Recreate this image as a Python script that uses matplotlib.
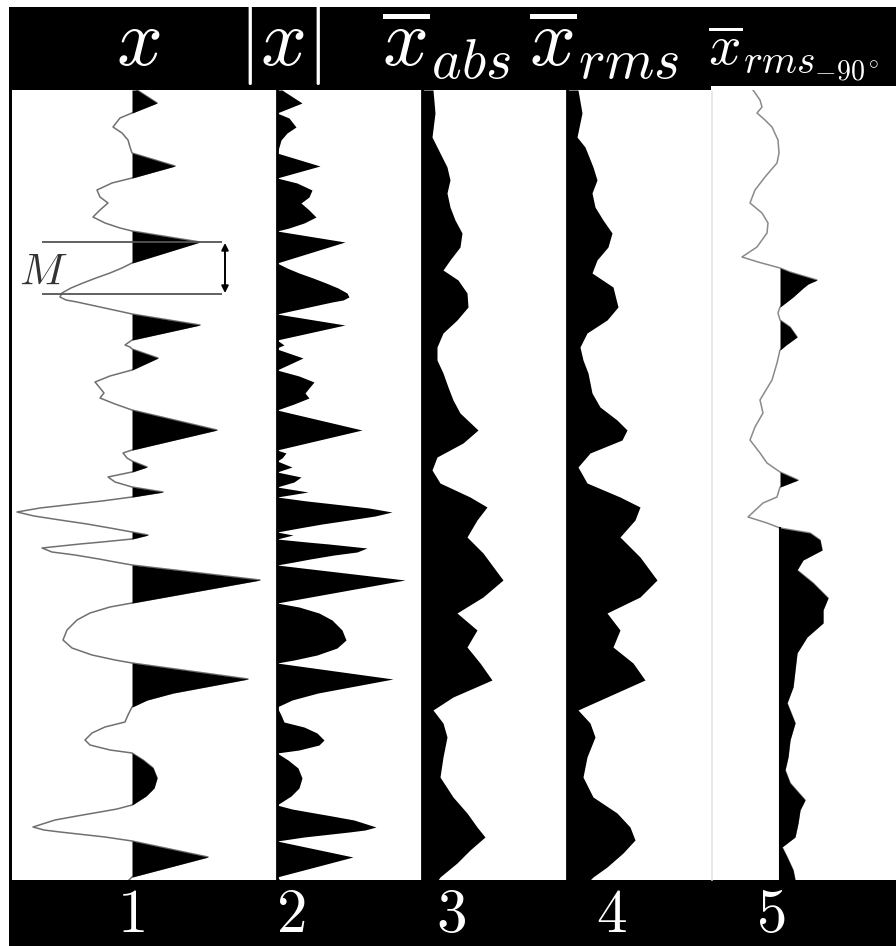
import numpy as np
import matplotlib.pyplot as plt
from matplotlib.patches import Rectangle

plt.rcParams['mathtext.fontset'] = 'cm'

# ---- trace 1: raw trace x (time in ms, amplitude in normalised units) ----
x_time = [0, 13, 23, 28, 37, 43, 50, 57, 63, 76, 88, 93, 100, 107, 113, 120, 127, 133,
          138, 141, 152, 173, 178, 183, 188, 193, 198, 203, 207, 210, 212, 217, 222, 224,
          235, 250, 255, 257, 259, 268, 280, 286, 292, 298, 303, 308, 314, 320, 340, 360,
          363, 368, 371, 377, 382, 387, 392, 397, 402, 407, 411, 414, 418, 422, 426, 430,
          434, 438, 442, 445, 449, 452, 454, 458, 462, 465, 469, 472, 475, 490, 513, 517,
          523, 530, 540, 550, 558, 565, 570, 573, 589, 603, 610, 617, 625, 632, 637, 643,
          650, 655, 660, 663, 670, 678, 688, 698, 706, 715, 719, 722, 726, 730, 737, 740,
          742, 745, 747, 751, 767, 787, 790]
x_amp = [0.05, 0.25, 0, -0.12, -0.19, -0.10, -0.04, -0.02, 0, 0.43, 0, -0.20, -0.35, -0.32,
         -0.24, -0.32, -0.39, -0.27, -0.12, 0, 0.68, 0, -0.10, -0.22, -0.36, -0.49, -0.61,
         -0.70, -0.72, -0.66, -0.55, -0.32, -0.09, 0, 0.68, 0, -0.07, -0.02, 0, 0.26, 0,
         -0.22, -0.37, -0.32, -0.28, -0.32, -0.17, 0, 0.85, 0, -0.09, -0.05, 0, 0.15, 0,
         -0.24, -0.17, 0, 0.31, 0, -0.30, -0.57, -0.92, -1.15, -0.98, -0.72, -0.45, -0.22,
         0, 0.16, 0, -0.30, -0.52, -0.90, -0.80, -0.57, -0.33, -0.17, 0, 1.28, 0, -0.22,
         -0.42, -0.55, -0.65, -0.69, -0.60, -0.40, -0.17, 0, 1.16, 0.41, 0.15, 0, -0.04,
         -0.07, -0.27, -0.40, -0.47, -0.42, -0.22, 0, 0.11, 0.21, 0.25, 0.22, 0.14, 0,
         -0.15, -0.32, -0.55, -0.77, -0.99, -0.88, -0.72, -0.45, -0.27, 0, 0.76, 0, -0.03]

# ---- trace 3: mean absolute amplitude ----
abs_time = [0, 23, 47, 57, 77, 90, 103, 117, 130, 143, 157, 170, 180, 190, 203, 217, 230,
            243, 257, 270, 283, 297, 310, 323, 340, 353, 367, 380, 393, 407, 417, 430, 447,
            463, 490, 507, 523, 540, 557, 573, 590, 607, 620, 633, 647, 667, 687, 707, 723,
            737, 747, 760, 773, 787, 790]
abs_amp = [0.11, 0.13, 0.10, 0.15, 0.25, 0.28, 0.25, 0.28, 0.33, 0.40, 0.38, 0.28, 0.21,
           0.36, 0.45, 0.46, 0.35, 0.21, 0.15, 0.15, 0.21, 0.26, 0.31, 0.38, 0.56, 0.41,
           0.15, 0.10, 0.18, 0.48, 0.65, 0.55, 0.45, 0.61, 0.81, 0.61, 0.35, 0.55, 0.45,
           0.58, 0.70, 0.31, 0.11, 0.21, 0.25, 0.21, 0.18, 0.31, 0.45, 0.55, 0.63, 0.48,
           0.35, 0.18, 0.16]

# ---- trace 4: rms amplitude ----
rms_time = [0, 23, 47, 57, 77, 90, 103, 117, 130, 143, 157, 170, 183, 197, 217, 230, 243,
            257, 270, 283, 303, 317, 330, 340, 350, 363, 377, 393, 407, 417, 430, 447, 467,
            490, 507, 523, 540, 557, 573, 590, 607, 620, 633, 647, 667, 687, 707, 723, 737,
            750, 763, 777, 787, 790]
rms_amp = [0.11, 0.15, 0.10, 0.18, 0.26, 0.30, 0.25, 0.28, 0.36, 0.45, 0.41, 0.30, 0.25,
           0.46, 0.51, 0.40, 0.20, 0.13, 0.16, 0.21, 0.25, 0.33, 0.50, 0.60, 0.55, 0.23,
           0.11, 0.20, 0.53, 0.73, 0.68, 0.53, 0.73, 0.90, 0.73, 0.40, 0.53, 0.46, 0.66,
           0.78, 0.40, 0.11, 0.23, 0.28, 0.20, 0.16, 0.26, 0.50, 0.63, 0.68, 0.56, 0.40,
           0.26, 0.23]

# ---- trace 5: rms of the -90 degree phase-rotated trace ----
rms90_time = [0, 10, 17, 23, 30, 37, 50, 63, 73, 87, 100, 113, 123, 133, 143, 157, 167, 172,
              178, 182, 190, 194, 198, 207, 217, 223, 230, 237, 247, 255, 260, 273, 290, 310,
              323, 337, 350, 363, 373, 382, 390, 397, 407, 413, 427, 433, 438, 443, 450, 460,
              470, 480, 493, 508, 520, 533, 547, 563, 580, 597, 613, 633, 650, 667, 680, 693,
              710, 720, 733, 747, 757, 767, 780, 790]
rms90_amp = [-0.27, -0.20, -0.18, -0.23, -0.15, -0.08, -0.02, -0.01, -0.03, -0.15, -0.25,
             -0.30, -0.18, -0.12, -0.13, -0.23, -0.38, -0.22, 0, 0.10, 0.37, 0.28, 0.23, 0.13,
             0, -0.02, 0, 0.10, 0.17, 0.06, 0, -0.03, -0.08, -0.20, -0.17, -0.25, -0.30,
             -0.20, -0.13, 0, 0.18, 0, -0.03, -0.17, -0.32, -0.13, 0, 0.30, 0.40, 0.42,
             0.23, 0.17, 0.33, 0.48, 0.43, 0.43, 0.27, 0.17, 0.15, 0.13, 0.07, 0.15, 0.10,
             0.08, 0.05, 0.10, 0.25, 0.20, 0.18, 0.15, 0.02, 0.07, 0.13, 0.15]

headers = [r'$x$', r'$|x|$', r'$\overline{x}_{abs}$', r'$\overline{x}_{rms}$',
           r'$\overline{x}_{rms_{-90^\circ}}$']
numbers = ['1', '2', '3', '4', '5']

# ---- layout (pixels) ----
W, H = 896, 946
TOP, BOTTOM, LEFT = 90, 880, 12
BASE = [132, 277, 422, 567, 780]
GAIN = 100  # px per amplitude unit

fig = plt.figure(figsize=(W / 100, H / 100), dpi=100, facecolor='white')

bg = fig.add_axes([0, 0, 1, 1])
bg.set_xlim(0, W)
bg.set_ylim(H, 0)
bg.axis('off')
bg.add_patch(Rectangle((9, 7), W - 9, TOP - 7, color='black', lw=0))
bg.add_patch(Rectangle((9, BOTTOM), W - 9, H - BOTTOM, color='black', lw=0))
bg.add_patch(Rectangle((9, TOP), 3, BOTTOM - TOP, color='black', lw=0))
bg.plot([712, 712], [TOP, BOTTOM], color='#e4e4e4', lw=1.2)

head_x = [138, 280, 382, 529, 708]
head_ha = ['center', 'center', 'left', 'left', 'left']
head_fs = [58, 58, 58, 58, 41]
for lbl, hx, ha, fs in zip(headers, head_x, head_ha, head_fs):
    bg.text(hx, 65, lbl, color='white', fontsize=fs, ha=ha, va='baseline')
bg.add_patch(Rectangle((711, 86), W - 711, 5, color='white', lw=0, zorder=5))

num_x = [131, 291, 451, 611, 771]
for lbl, nx in zip(numbers, num_x):
    bg.text(nx, 932, '$' + lbl + '$', color='white', fontsize=44, ha='center', va='baseline')

ax = fig.add_axes([LEFT / W, (H - BOTTOM) / H, (W - LEFT) / W, (BOTTOM - TOP) / H])
ax.set_xlim(LEFT, W)
ax.set_ylim(BOTTOM - TOP, 0)
ax.axis('off')
ax.patch.set_alpha(0)

# trace 1: wiggle with positive fill
t1 = np.array(x_time)
a1 = np.array(x_amp)
b = BASE[0]
ax.plot(b + GAIN * a1, t1, color='#707070', lw=1.1, zorder=2)
ax.fill_betweenx(t1, b, b + GAIN * np.clip(a1, 0, None), color='black', lw=0, zorder=3)

# trace 2: |x|
b = BASE[1]
ax.fill_betweenx(t1, b, b + GAIN * np.abs(a1), color='black', lw=0)
ax.plot([b, b], [0, BOTTOM - TOP], color='black', lw=2)

# traces 3 and 4
for b, tt, aa in [(BASE[2], abs_time, abs_amp), (BASE[3], rms_time, rms_amp)]:
    ax.fill_betweenx(tt, b, b + GAIN * np.array(aa), color='black', lw=0)
    ax.plot([b, b], [0, BOTTOM - TOP], color='black', lw=2)

# trace 5
t5 = np.array(rms90_time)
a5 = np.array(rms90_amp)
b = BASE[4]
ax.plot(b + GAIN * a5, t5, color='#8a8a8a', lw=1.1, zorder=2)
ax.fill_betweenx(t5, b, b + GAIN * np.clip(a5, 0, None), color='black', lw=0, zorder=3)
ax.plot([b, b], [438, BOTTOM - TOP], color='black', lw=1.5, zorder=3)

# amplitude annotation M
ax.hlines([152, 204], 42, 222, color='#555555', lw=1.3, zorder=4)
ax.annotate('', xy=(225, 153), xytext=(225, 203),
            arrowprops=dict(arrowstyle='<|-|>', lw=1.4, color='black',
                            mutation_scale=10, shrinkA=0, shrinkB=0))
ax.text(43, 182, '$M$', fontsize=32, ha='center', va='center', color='#333333')

fig.savefig('out.png', dpi=100, facecolor='white')
